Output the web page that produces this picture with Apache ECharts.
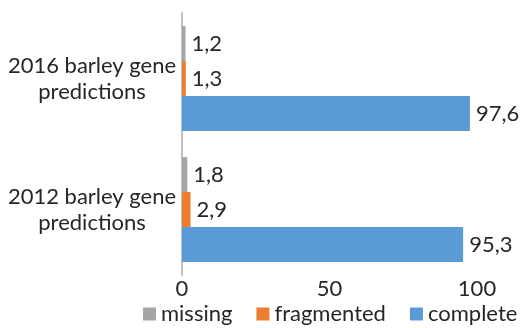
<!DOCTYPE html>
<html>
<head>
<meta charset="utf-8">
<script src="https://cdn.jsdelivr.net/npm/echarts@6/dist/echarts.min.js"></script>
<style>html,body{margin:0;padding:0;background:#fff;}#c{width:529px;height:328px;}</style>
</head>
<body>
<div id="c"></div>
<script>
const categories = ['2012 barley gene\npredictions', '2016 barley gene\npredictions'];
const missing = [1.8, 1.2];
const fragmented = [2.9, 1.3];
const complete = [95.3, 97.6];
const legendNames = ['missing', 'fragmented', 'complete'];
const xTicks = [0, 50, 100];

const FONT = 'Lato';
const FS = 22;
const chart = echarts.init(document.getElementById('c'));
const lbl = {
  show: true, position: 'right', distance: 6,
  fontFamily: FONT, fontSize: FS, color: '#262626',
  formatter: p => String(p.value).replace('.', ',')
};
chart.setOption({
  animation: false,
  textStyle: {fontFamily: FONT},
  grid: {left: 182, right: 52, top: 13, bottom: 53},
  legend: {
    data: legendNames, bottom: 3, left: 143, width: 386, padding: 0,
    itemWidth: 13, itemHeight: 13, itemGap: 24, icon: 'rect',
    textStyle: {fontFamily: FONT, fontSize: FS, color: '#262626'}
  },
  xAxis: {
    type: 'value', min: xTicks[0], max: xTicks[xTicks.length - 1], interval: 50,
    axisLine: {show: false}, axisTick: {show: false}, splitLine: {show: false},
    axisLabel: {fontFamily: FONT, fontSize: FS, color: '#262626', margin: 3}
  },
  yAxis: {
    type: 'category', data: categories,
    axisLine: {show: true, lineStyle: {color: '#c0c0c0', width: 2}},
    axisTick: {show: false},
    axisLabel: {fontFamily: FONT, fontSize: FS, color: '#262626', align: 'center', margin: 90, lineHeight: 26}
  },
  series: [
    {name: 'missing', type: 'bar', data: missing, barGap: '0%', barCategoryGap: '20%', itemStyle: {color: '#A5A5A5'}, label: lbl},
    {name: 'fragmented', type: 'bar', data: fragmented, barGap: '0%', barCategoryGap: '20%', itemStyle: {color: '#ED7D31'}, label: lbl},
    {name: 'complete', type: 'bar', data: complete, barGap: '0%', barCategoryGap: '20%', itemStyle: {color: '#5B9BD5'}, label: lbl}
  ]
});
</script>
</body>
</html>
